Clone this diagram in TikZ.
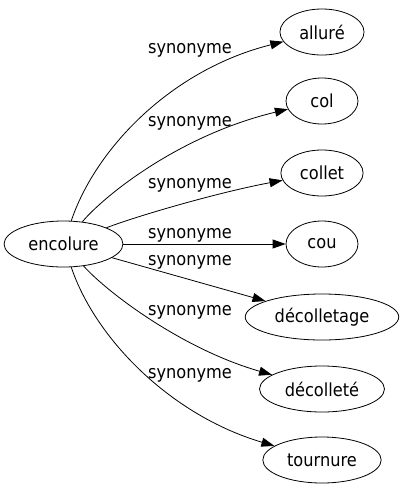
\documentclass[tikz,border=0pt]{standalone}
\usepackage{fontspec}
\setmainfont{DejaVu Sans}[FakeStretch=0.9]
\usetikzlibrary{arrows.meta,shapes.geometric}

\begin{document}
\begin{tikzpicture}[x=1pt,y=-1pt,line width=0.8pt,
  word/.style={draw,ellipse,minimum width=72pt,minimum height=46pt,inner xsep=7pt},
  syn/.style={-{Triangle[length=13pt,width=9pt]}},
  lab/.style={inner sep=0pt}]
\useasboundingbox (0,0) rectangle (402,491);
\fontsize{18}{21}\selectfont

\node [word] (encolure) at (63.5,244) {encolure};

\node [word] (allure) at (322,32) {alluré};
\node [word] (col) at (322,101) {col};
\node [word] (collet) at (322,173) {collet};
\node [word] (cou) at (322,244) {cou};
\node [word] (decolletage) at (322,317) {décolletage};
\node [word] (decollete) at (322,389) {décolleté};
\node [word] (tournure) at (322,460) {tournure};

\draw [syn] (encolure) .. controls (95,150) and (170,70) .. (allure);
\draw [syn] (encolure) .. controls (105,195) and (180,135) .. (col);
\draw [syn] (encolure) .. controls (140,215) and (220,192) .. (collet);
\draw [syn] (encolure) -- (cou);
\draw [syn] (encolure) -- (decolletage);
\draw [syn] (encolure) .. controls (110,295) and (185,350) .. (decollete);
\draw [syn] (encolure) .. controls (95,338) and (170,415) .. (tournure);

\node [lab] (l1) at (190,50) {synonyme};
\node [lab] (l2) at (190,123) {synonyme};
\node [lab] (l3) at (190,185) {synonyme};
\node [lab] (l4) at (190,235) {synonyme};
\node [lab] (l5) at (190,262) {synonyme};
\node [lab] (l6) at (190,312) {synonyme};
\node [lab] (l7) at (190,375) {synonyme};

\end{tikzpicture}
\end{document}
